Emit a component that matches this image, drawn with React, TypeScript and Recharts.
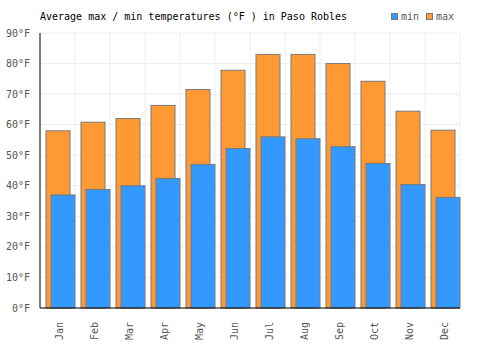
import React from "react"
import { Bar, BarChart, CartesianGrid, XAxis, YAxis } from "recharts"

const months = ["Jan", "Feb", "Mar", "Apr", "May", "Jun", "Jul", "Aug", "Sep", "Oct", "Nov", "Dec"]
const maxTemps = [58, 60.8, 62, 66.3, 71.5, 77.8, 83, 83, 80, 74.2, 64.4, 58.2]
const minTemps = [37, 38.8, 40, 42.4, 47, 52.2, 56, 55.4, 52.8, 47.3, 40.4, 36.2]
const yTicks = [0, 10, 20, 30, 40, 50, 60, 70, 80, 90]

const chartData = months.map((month, i) => ({ month, max: maxTemps[i], min: minTemps[i] }))

const FONT = "'DejaVu Sans Mono', monospace"

// shift the overlapping pair right so the blue bar ends on the category line
const shiftedBar = (fill: string) => (props: any) => (
  <rect
    x={props.x + 3}
    y={props.y}
    width={props.width}
    height={props.height}
    fill={fill}
    stroke="#7a7a7a"
    strokeWidth={1}
  />
)

const MonthTick = ({ x, y, payload }: any) => (
  <text
    transform={`translate(${x + 2},${y + 6}) rotate(-90)`}
    textAnchor="end"
    dominantBaseline="middle"
    fontFamily={FONT}
    fontSize={10}
    fill="#555"
  >
    {payload.value}
  </text>
)

// vertical grid lines sit on the category boundaries, not the band centres
const boundaryLines = ({ offset }: any) => {
  const step = offset.width / months.length
  return [...months, ""].map((_, i) => offset.left + i * step)
}

export default function App() {
  return (
    <div style={{ position: "fixed", left: 0, top: 0, width: 500, height: 350, background: "white" }}>
      <div style={{ position: "absolute", left: 40, top: 11, fontFamily: FONT, fontSize: 10, color: "#000" }}>
        Average max / min temperatures (°F ) in Paso Robles
      </div>
      <div
        style={{
          position: "absolute",
          left: 391,
          top: 11,
          fontFamily: FONT,
          fontSize: 10,
          color: "#555",
          display: "flex",
          alignItems: "center",
        }}
      >
        <span style={{ width: 5, height: 5, background: "#3399ff", border: "1px solid #777", marginRight: 3 }} />
        <span style={{ marginRight: 7 }}>min</span>
        <span style={{ width: 5, height: 5, background: "#ff9933", border: "1px solid #777", marginRight: 3 }} />
        <span>max</span>
      </div>
      <BarChart
        width={500}
        height={350}
        data={chartData}
        margin={{ top: 33, right: 40, left: 0, bottom: 0 }}
        barSize={24}
        barGap={-19}
      >
        <CartesianGrid stroke="#eeeeee" verticalCoordinatesGenerator={boundaryLines} />
        <XAxis
          dataKey="month"
          height={42}
          tickLine={false}
          axisLine={{ stroke: "#000" }}
          tick={<MonthTick />}
          interval={0}
        />
        <YAxis
          width={40}
          domain={[0, 90]}
          ticks={yTicks}
          tickLine={false}
          axisLine={{ stroke: "#000" }}
          tickFormatter={(v) => `${v}°F`}
          tick={{ fontFamily: FONT, fontSize: 10, fill: "#555" }}
          tickMargin={4}
        />
        <Bar dataKey="max" fill="#ff9933" isAnimationActive={false} shape={shiftedBar("#ff9933")} />
        <Bar dataKey="min" fill="#3399ff" isAnimationActive={false} shape={shiftedBar("#3399ff")} />
      </BarChart>
    </div>
  )
}
